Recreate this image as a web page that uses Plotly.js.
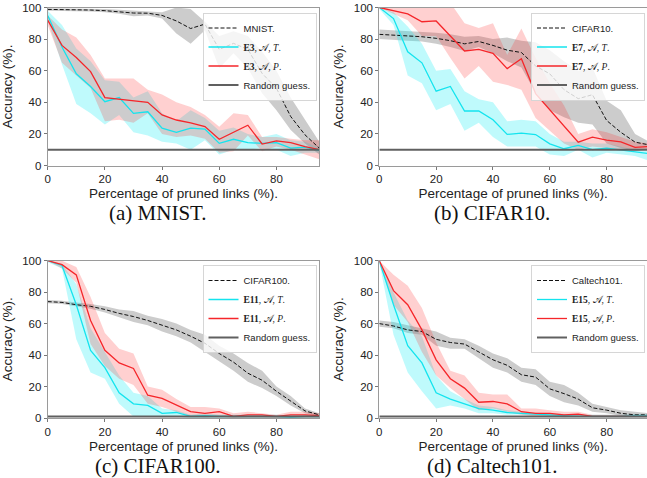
<!DOCTYPE html>
<html><head><meta charset="utf-8">
<script src="https://cdn.plot.ly/plotly-3.0.1.min.js"></script>
<style>html,body{margin:0;padding:0;background:#fff}#chart{width:647px;height:478px}</style>
</head><body><div id="chart"></div>
<script>
const pruned = [0,5,10,15,20,25,30,35,40,45,50,55,60,65,70,75,80,85,90,95];
const xTicks = [0,20,40,60,80];
const yTicks = [0,20,40,60,80,100];
const datasets = ['MNIST.', 'CIFAR10.', 'CIFAR100.', 'Caltech101.'];
const expIds = ['E3', 'E7', 'E11', 'E15'];
const captions = ['(a) MNIST.', '(b) CIFAR10.', '(c) CIFAR100.', '(d) Caltech101.'];
const randomGuess = [10, 10, 1, 1];

// (a) MNIST
const mnistBase   = [98.8,98.8,98.7,98.4,98,97.4,96.5,96.4,95,91.5,86.7,89.5,73.5,77.3,73.5,58.3,48.9,31,19.4,11];
const mnistBaseHi = [99.6,99.5,99.4,99.2,99,98.6,98,97.8,97,100,99,91,82,85,82,72,60,43,29,15];
const mnistBaseLo = [98,98,97.8,97.5,97,96,94.5,95,93,83.6,77,85.6,61.5,71,61.5,45.7,35,22.5,14,7];
const mnistT      = [95,75,58,50,40.4,43,33,34,23.6,21,23.6,23,14,16.6,14.5,14,14.5,11,11.6,9.5];
const mnistTHi    = [98,89,74,66,54,53,43,47,33,28,35,30,22,24,20,18,20,16,15,11];
const mnistTLo    = [92,64,39,33,26,32,21,19,15,14,10,16,7,10,10,11,10,6,8,8];
const mnistP      = [92,76,68.4,59.4,43,42,41,40,32,28.8,27,24.6,16.6,21,25.5,13.6,15.6,14.5,12,10];
const mnistPHi    = [95,86,81,70,55,55,55,48,45,40,37,32,24.6,33,32,18,18,17,16,16];
const mnistPLo    = [89,65,57,49,28,29,27,33,20,18,19,17,8,9,19,9,12,10,7,4];

// (b) CIFAR10
const cifar10Base   = [83,82.5,82,81.5,80.5,79,77,78.5,76,73,71.5,63,58,48,42.3,44.8,28.5,21,14.8,13];
const cifar10BaseHi = [86,85.5,85,84.5,84,83,81.5,82,80,81,79,78,73,66,60,62,41,35,20,15];
const cifar10BaseLo = [80,79.5,79,78.5,77,75,72.5,75,71,66,62,46,35,30.6,27,26,14,11,9.5,10];
const cifar10T      = [100,93,72,65,47,50,34.5,34.5,29,19.7,20.5,19.6,13.7,10.6,12.7,10,11,10,9,7.5];
const cifar10THi    = [100,97,88,77,60,61,47,42,40,28,29,28,20,15,15,14,14,12,10,9];
const cifar10TLo    = [99,89,57,52,35,39,22,27,18,12,12,12,7,6,10,5,8,7,6,3];
const cifar10P      = [100,98,96,91,91.5,82,72.5,73.5,71,61.3,67.6,45.5,35.3,25,14.8,18,16,15,11.5,12];
const cifar10PHi    = [100,101,104,108,108,103,90,87,90,70,86.7,68,52,38,20,23,21,18,15,14];
const cifar10PLo    = [100,96,92,82,82,68,55,63,53,51,48,30,22,14,10,12,11,10,9,10];

// (c) CIFAR100
const cifar100Base   = [74,73.5,72,71,69,66.5,64.5,62,59,56,52,47.5,41,35.5,28.5,24,17,10.5,4.5,2];
const cifar100BaseHi = [75,74.5,73.5,72.5,71,69,68,65,63,60,56,53,46,41,35,30,20,14,6,3];
const cifar100BaseLo = [73,72.5,71,69.5,67,64,61,59,55,52,48,42,36,30,23,19,14,8,3,1];
const cifar100T      = [100,97,72,43,32,16,9,8,3,3.5,1,1.5,1,1,1,1,1,0.5,1,1];
const cifar100THi    = [100,98,85,57,42,27,16,14,6,5,2,3,2,2,2,2,2,1.5,2,2];
const cifar100TLo    = [99,95,50,29,25,9,1,1,0.5,1,0,0,0,0,0,0,0,0,0,0];
const cifar100P      = [100,97.5,91,62,43,35,31.5,14.5,12.5,8,4,3,4,1,2,2,1,2,2,1.5];
const cifar100PHi    = [100,100,96,77,54,44,41,20,18,12,7,7,6,3,4,3,2,4,4,3];
const cifar100PLo    = [100,95,86,47,33,25,21,9,7,4,1,0.5,1,0,0.5,0.5,0,0.5,0.5,0.5];

// (d) Caltech101
const caltechBase   = [60,58.5,56,55,50,48,47,42,37,33.5,27.5,26,18.5,15.5,12,6.5,5,3,2,2];
const caltechBaseHi = [62,61,59,57,55,51,50,46,41,38,32,31,23,21,16,9,7,5,4,3];
const caltechBaseLo = [58,57,54,53,46,44,44,38,32,29,23,21,14,10,8,4,3,1.5,1,1];
const caltechT      = [100,72,46,35,16,12,9,6,5,3.5,3,2.5,2,1.5,1,1,1,1,1.5,1.5];
const caltechTHi    = [100,80,62,52,27,17,12,8,7,5,4,3.5,3,2.5,2,2,2,2,2.5,2.5];
const caltechTLo    = [99,53,29,17,6,8,6,3,3,2,2,1.5,1,0.5,0.5,0.5,0.5,0.5,0.5,0.5];
const caltechP      = [100,81,72,56,37,25,19,10,10.5,9,4,3,3,2,2.5,1,1,1,1,1];
const caltechPHi    = [100,91,84,70,48,30,27,16,15,15,6,6,5,4,4,2,2,2,2,2];
const caltechPLo    = [99,72,61,42,27,19,12,5,6,4,2,1,1,0.5,1,0.5,0.5,0.5,0.5,0.5];

const panels = [
  {base: mnistBase, baseHi: mnistBaseHi, baseLo: mnistBaseLo, t: mnistT, tHi: mnistTHi, tLo: mnistTLo, p: mnistP, pHi: mnistPHi, pLo: mnistPLo},
  {base: cifar10Base, baseHi: cifar10BaseHi, baseLo: cifar10BaseLo, t: cifar10T, tHi: cifar10THi, tLo: cifar10TLo, p: cifar10P, pHi: cifar10PHi, pLo: cifar10PLo},
  {base: cifar100Base, baseHi: cifar100BaseHi, baseLo: cifar100BaseLo, t: cifar100T, tHi: cifar100THi, tLo: cifar100TLo, p: cifar100P, pHi: cifar100PHi, pLo: cifar100PLo},
  {base: caltechBase, baseHi: caltechBaseHi, baseLo: caltechBaseLo, t: caltechT, tHi: caltechTHi, tLo: caltechTLo, p: caltechP, pHi: caltechPHi, pLo: caltechPLo}
];

const W = 647, H = 478;
const xDom = [[47.7/W, 319.3/W], [379.3/W, 1], [47.7/W, 319.3/W], [379.3/W, 1]];
const yDom = [[1-165.5/H, 1-7.5/H], [1-165.5/H, 1-7.5/H], [1-418/H, 1-260.7/H], [1-418/H, 1-260.7/H]];
const xMax = [95, 94.2, 95, 94.2];

const CYAN = '#14e4ee', RED = '#f5262a';
const traces = [];
const layout = {
  width: W, height: H, margin: {l:0, r:0, t:0, b:0},
  paper_bgcolor: '#fff', plot_bgcolor: '#fff',
  font: {family: 'Liberation Sans, Arial, sans-serif', color: '#222'},
  showlegend: true, annotations: []
};

function band(xs, hi, lo, color, ax) {
  return {x: xs.concat(xs.slice().reverse()), y: hi.concat(lo.slice().reverse()),
    type: 'scatter', mode: 'lines', fill: 'toself', fillcolor: color,
    line: {width: 0, color: color}, hoverinfo: 'skip', showlegend: false,
    xaxis: ax.x, yaxis: ax.y};
}
function mathName(id, letter) {
  return '<span style="font-family:Liberation Serif">' + '<b>' + id + '</b>, 𝒜, <i>' + letter + '</i>.</span>';
}

panels.forEach((d, i) => {
  const n = i === 0 ? '' : String(i + 1);
  const ax = {x: 'x' + n, y: 'y' + n};
  const lg = i === 0 ? 'legend' : 'legend' + (i + 1);
  traces.push(band(pruned, d.baseHi, d.baseLo, 'rgba(0,0,0,0.2)', ax));
  traces.push(band(pruned, d.tHi, d.tLo, 'rgba(0,235,245,0.25)', ax));
  traces.push(band(pruned, d.pHi, d.pLo, 'rgba(255,40,40,0.22)', ax));
  traces.push({x: pruned, y: d.base, type: 'scatter', mode: 'lines', name: datasets[i],
    line: {color: '#111', width: 1, dash: '4px,2px'}, xaxis: ax.x, yaxis: ax.y, legend: lg});
  traces.push({x: pruned, y: d.t, type: 'scatter', mode: 'lines', name: mathName(expIds[i], 'T'),
    line: {color: CYAN, width: 1.3}, xaxis: ax.x, yaxis: ax.y, legend: lg});
  traces.push({x: pruned, y: d.p, type: 'scatter', mode: 'lines', name: mathName(expIds[i], 'P'),
    line: {color: RED, width: 1.3}, xaxis: ax.x, yaxis: ax.y, legend: lg});
  traces.push({x: pruned, y: pruned.map(() => randomGuess[i]), type: 'scatter', mode: 'lines', name: 'Random guess.',
    line: {color: '#606060', width: 2}, xaxis: ax.x, yaxis: ax.y, legend: lg});

  const axisCommon = {showline: true, mirror: true, linecolor: '#9a9a9a', linewidth: 1,
    showgrid: false, zeroline: false, ticks: 'outside', ticklen: 3, tickcolor: '#777',
    tickfont: {size: 11.5, color: '#222'}};
  layout['xaxis' + n] = Object.assign({}, axisCommon, {domain: xDom[i], range: [0, xMax[i]],
    tickvals: xTicks, anchor: 'y' + n,
    title: {text: 'Percentage of pruned links (%).', font: {size: 13.5}, standoff: 4}});
  layout['yaxis' + n] = Object.assign({}, axisCommon, {domain: yDom[i], range: [0, 100],
    tickvals: yTicks, anchor: 'x' + n,
    title: {text: 'Accuracy (%).', font: {size: 13.5}, standoff: 7}});
  const lgX = i % 2 === 0 ? 316.5 / W : 645 / W;
  const lgY = i < 2 ? 1 - 12.5 / H : 1 - 265 / H;
  layout[lg] = {x: lgX, y: lgY, xanchor: 'right', yanchor: 'top', xref: 'paper', yref: 'paper',
    bgcolor: 'rgba(255,255,255,0.8)', bordercolor: '#d6d6d6', borderwidth: 1,
    font: {size: 9.5, color: '#222'}, itemwidth: 30, tracegroupgap: 0};
  const capX = i % 2 === 0 ? 158 / W : 492 / W;
  const capY = i < 2 ? 1 - 213 / H : 1 - 466 / H;
  layout.annotations.push({text: captions[i], x: capX, y: capY, xref: 'paper', yref: 'paper',
    xanchor: 'center', yanchor: 'middle', showarrow: false,
    font: {family: 'Liberation Serif, Times New Roman, serif', size: 21, color: '#111'}});
});

Plotly.newPlot('chart', traces, layout, {staticPlot: true, displayModeBar: false});
</script>
</body></html>
